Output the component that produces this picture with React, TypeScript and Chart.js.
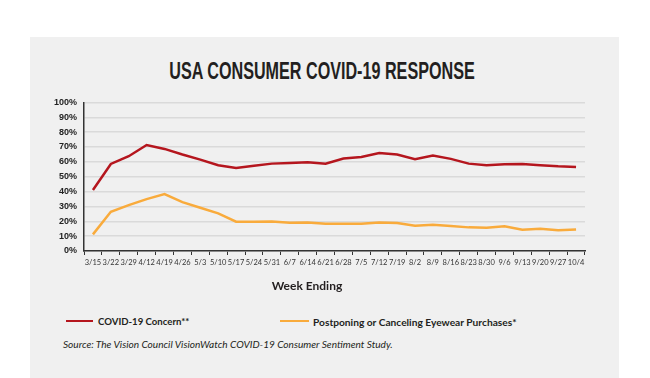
import React, { useEffect, useRef } from "react";
import { Chart, registerables } from "chart.js";

Chart.register(...registerables);

const weeks = ["3/15", "3/22", "3/29", "4/12", "4/19", "4/26", "5/3", "5/10", "5/17", "5/24", "5/31", "6/7", "6/14", "6/21", "6/28", "7/5", "7/12", "7/19", "8/2", "8/9", "8/16", "8/23", "8/30", "9/6", "9/13", "9/20", "9/27", "10/4"];
const covidConcern = [41, 58.6, 63.8, 71.3, 68.7, 64.9, 61.5, 57.7, 55.9, 57.3, 58.8, 59.3, 59.7, 58.8, 62.2, 63.3, 66, 64.9, 61.7, 64.2, 62, 58.8, 57.7, 58.4, 58.6, 57.7, 57, 56.6];
const postponing = [11.2, 26.4, 30.9, 34.9, 38.3, 32.9, 29.1, 25.3, 19.7, 19.7, 19.9, 19, 19.2, 18.3, 18.3, 18.3, 19.2, 18.8, 17, 17.7, 16.8, 15.9, 15.7, 16.6, 14.3, 15, 13.9, 14.5];
const yTicks = [0, 10, 20, 30, 40, 50, 60, 70, 80, 90, 100];

const RED = "#b5161e";
const ORANGE = "#f9ab3c";
const TITLE = "USA CONSUMER COVID-19 RESPONSE";
const TITLE_FONT = "bold 24px 'Liberation Sans', Arial, sans-serif";

function titleScale(): number {
  try {
    const c = document.createElement("canvas").getContext("2d");
    if (!c) return 0.72;
    c.font = TITLE_FONT;
    const w = c.measureText(TITLE).width;
    return w > 0 ? 306 / w : 0.72;
  } catch (e) {
    return 0.72;
  }
}

export default function App() {
  const ref = useRef<HTMLCanvasElement>(null);
  useEffect(() => {
    if (!ref.current) return;
    const chart = new Chart(ref.current, {
      type: "line",
      data: {
        labels: weeks,
        datasets: [
          { label: "COVID-19 Concern**", data: covidConcern, borderColor: RED, borderWidth: 2.5, pointRadius: 0, tension: 0 },
          { label: "Postponing or Canceling Eyewear Purchases*", data: postponing, borderColor: ORANGE, borderWidth: 2.5, pointRadius: 0, tension: 0 },
        ],
      },
      options: {
        animation: false,
        responsive: false,
        maintainAspectRatio: false,
        layout: { padding: { left: 0, right: 34, top: 10, bottom: 0 } },
        plugins: { legend: { display: false }, tooltip: { enabled: false }, title: { display: false } },
        scales: {
          x: {
            offset: true,
            grid: { display: true, drawOnChartArea: false, drawTicks: true, tickLength: 4, tickColor: "#333", offset: true, lineWidth: 1 },
            border: { display: true, color: "#333", width: 1.5 },
            ticks: { autoSkip: false, maxRotation: 0, minRotation: 0, padding: 3, color: "#333", font: { family: "Lato", size: 7.5 } },
            afterFit: (s: any) => { s.height = 29; },
          },
          y: {
            min: 0,
            max: 100,
            afterBuildTicks: (s: any) => { s.ticks = yTicks.map((v) => ({ value: v })); },
            grid: { color: "#dadada", lineWidth: 1.5, drawTicks: false },
            border: { display: true, color: "#333", width: 1.5 },
            ticks: { padding: 7, color: "#222", font: { family: "Liberation Sans", size: 9, weight: "bold" }, callback: (v: any) => v + "%" },
            afterFit: (s: any) => { s.width = 54; },
          },
        },
      },
    });
    return () => chart.destroy();
  }, []);

  const sx = titleScale();

  return (
    <div style={{ position: "absolute", left: 0, top: 0, width: 650, height: 378, background: "#fff", overflow: "hidden" }}>
      <div style={{ position: "absolute", left: 30, top: 37, width: 589, height: 341, background: "#f0f0f0" }} />
      <div style={{ position: "absolute", left: 22, top: 57, width: 600, textAlign: "center", font: TITLE_FONT, lineHeight: "28px", color: "#231f20", whiteSpace: "nowrap", transform: `scaleX(${sx})`, transformOrigin: "50% 50%" }}>
        {TITLE}
      </div>
      <canvas ref={ref} width={589} height={190} style={{ position: "absolute", left: 30, top: 90, width: 589, height: 190 }} />
      <div style={{ position: "absolute", left: 207, top: 278, width: 200, textAlign: "center", fontFamily: "Lato, sans-serif", fontWeight: "bold", fontSize: 12, lineHeight: "16px", color: "#231f20" }}>
        Week Ending
      </div>
      <div style={{ position: "absolute", left: 66, top: 320, width: 27, height: 2, background: RED }} />
      <div style={{ position: "absolute", left: 98, top: 314, fontFamily: "Lato, sans-serif", fontWeight: "bold", fontSize: 9.6, lineHeight: "16px", color: "#231f20", whiteSpace: "nowrap" }}>
        COVID-19 Concern**
      </div>
      <div style={{ position: "absolute", left: 280, top: 320, width: 29, height: 2, background: ORANGE }} />
      <div style={{ position: "absolute", left: 313, top: 314, fontFamily: "Lato, sans-serif", fontWeight: "bold", fontSize: 10.2, lineHeight: "16px", color: "#231f20", whiteSpace: "nowrap" }}>
        Postponing or Canceling Eyewear Purchases*
      </div>
      <div style={{ position: "absolute", left: 63, top: 337, fontFamily: "Lato, sans-serif", fontStyle: "italic", fontSize: 10.1, lineHeight: "14px", color: "#231f20", whiteSpace: "nowrap" }}>
        Source: The Vision Council VisionWatch COVID-19 Consumer Sentiment Study.
      </div>
    </div>
  );
}
